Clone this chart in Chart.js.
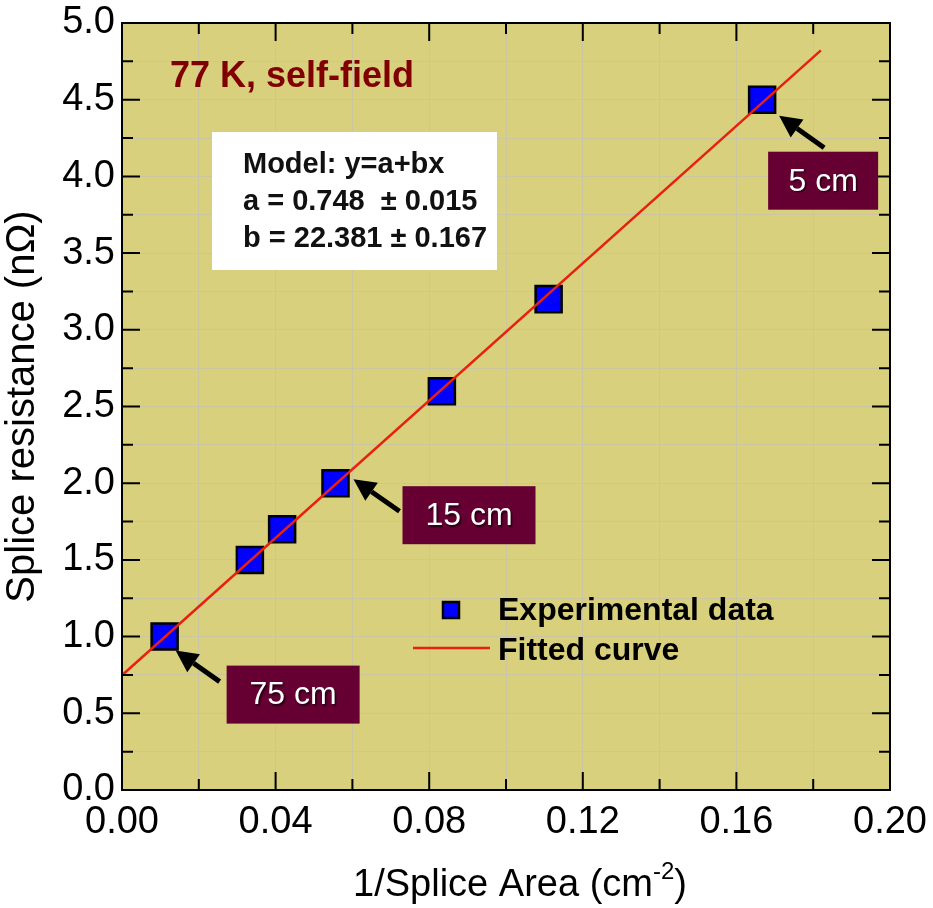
<!DOCTYPE html>
<html>
<head>
<meta charset="utf-8">
<script src="https://cdn.jsdelivr.net/npm/chart.js@4/dist/chart.umd.min.js"></script>
<style>
  html, body { margin: 0; padding: 0; background: #ffffff; }
  #wrap { width: 933px; height: 908px; }
</style>
</head>
<body>
<div id="wrap"><canvas id="chart" width="933" height="908"></canvas></div>
<script>
// Measured splice resistance vs inverse splice area, 77 K self-field
const inverseArea = [0.0111, 0.0333, 0.0417, 0.0556, 0.0833, 0.1111, 0.1667];
const resistance  = [1.0, 1.5, 1.7, 2.0, 2.6, 3.2, 4.5];

// Linear fit y = a + b x
const fitA = 0.748, fitAErr = 0.015;
const fitB = 22.381, fitBErr = 0.167;
const fitXRange = [0, 0.182];

// Axis ranges and tick steps
const xRange = [0, 0.20], xStep = 0.02, xLabelStep = 0.04;
const yRange = [0, 5.0], yStep = 0.25, yLabelStep = 0.5;

// Splice length callouts: label and the point they refer to
const calloutText  = ['75 cm', '15 cm', '5 cm'];
const calloutPoint = [0, 3, 6];

const FONT = '"Liberation Sans", Arial, Helvetica, sans-serif';
const PLOT_BG = '#d8d07c';
const GRID = '#cbc69f';
const RED = '#e8200e';
const BOX = '#660033';

// Pixel offsets (from the referenced point) for arrow tip, arrow tail and label box
const calloutLayout = [
  { tip: [11, 14], tail: [55, 45], box: [62, 29, 133, 58] },
  { tip: [18, -4], tail: [64, 28], box: [67, 3, 133, 58] },
  { tip: [17, 16], tail: [62, 48], box: [6, 52, 110, 58] }
];

const fitLine = fitXRange.map(x => ({ x: x, y: fitA + fitB * x }));
const points = inverseArea.map((x, i) => ({ x: x, y: resistance[i] }));

const isMultiple = (v, step) => Math.abs(v / step - Math.round(v / step)) < 1e-6;

function drawArrow(ctx, x0, y0, x1, y1) {
  const ang = Math.atan2(y1 - y0, x1 - x0);
  const headLen = 22, headHalf = 11;
  const bx = x1 - headLen * Math.cos(ang), by = y1 - headLen * Math.sin(ang);
  ctx.save();
  ctx.strokeStyle = '#000';
  ctx.fillStyle = '#000';
  ctx.lineWidth = 5;
  ctx.beginPath();
  ctx.moveTo(x0, y0);
  ctx.lineTo(bx, by);
  ctx.stroke();
  ctx.beginPath();
  ctx.moveTo(x1, y1);
  ctx.lineTo(bx + headHalf * Math.sin(ang), by - headHalf * Math.cos(ang));
  ctx.lineTo(bx - headHalf * Math.sin(ang), by + headHalf * Math.cos(ang));
  ctx.closePath();
  ctx.fill();
  ctx.restore();
}

const plotDecor = {
  id: 'plotDecor',
  beforeDraw(chart) {
    const { ctx, chartArea: a } = chart;
    ctx.save();
    ctx.fillStyle = PLOT_BG;
    ctx.fillRect(a.left, a.top, a.right - a.left, a.bottom - a.top);
    ctx.restore();
  },
  afterDraw(chart) {
    const { ctx, chartArea: a, scales } = chart;
    const xs = scales.x, ys = scales.y;

    // frame
    ctx.save();
    ctx.strokeStyle = '#000';
    ctx.lineWidth = 2;
    ctx.strokeRect(a.left, a.top, a.right - a.left, a.bottom - a.top);

    // inward ticks on all four sides
    ctx.lineWidth = 2;
    ctx.beginPath();
    xs.ticks.forEach(t => {
      const px = xs.getPixelForValue(t.value);
      const len = isMultiple(t.value, xLabelStep) ? 18 : 11;
      ctx.moveTo(px, a.bottom); ctx.lineTo(px, a.bottom - len);
      ctx.moveTo(px, a.top); ctx.lineTo(px, a.top + len);
    });
    ys.ticks.forEach(t => {
      const py = ys.getPixelForValue(t.value);
      const len = isMultiple(t.value, yLabelStep) ? 18 : 11;
      ctx.moveTo(a.left, py); ctx.lineTo(a.left + len, py);
      ctx.moveTo(a.right, py); ctx.lineTo(a.right - len, py);
    });
    ctx.stroke();
    ctx.restore();

    // x axis title with superscript
    ctx.save();
    ctx.fillStyle = '#000';
    ctx.textBaseline = 'alphabetic';
    const main = '1/Splice Area (cm', sup = '-2', close = ')';
    const fMain = '38px ' + FONT, fSup = '24px ' + FONT;
    ctx.font = fMain;
    const wMain = ctx.measureText(main).width, wClose = ctx.measureText(close).width;
    ctx.font = fSup;
    const wSup = ctx.measureText(sup).width;
    const total = wMain + wSup + wClose;
    let tx = (a.left + a.right) / 2 - total / 2 + 14;
    const ty = 896;
    ctx.font = fMain; ctx.textAlign = 'left';
    ctx.fillText(main, tx, ty);
    ctx.font = fSup;
    ctx.fillText(sup, tx + wMain, ty - 17);
    ctx.font = fMain;
    ctx.fillText(close, tx + wMain + wSup, ty);
    ctx.restore();

    // condition label
    ctx.save();
    ctx.fillStyle = '#800000';
    ctx.font = 'bold 36px ' + FONT;
    ctx.textAlign = 'left';
    ctx.textBaseline = 'alphabetic';
    ctx.fillText('77 K, self-field', a.left + 48, a.top + 64);
    ctx.restore();

    // fit parameter box
    ctx.save();
    const bx = a.left + 90, by = a.top + 109;
    ctx.fillStyle = '#ffffff';
    ctx.fillRect(bx, by, 285, 138);
    ctx.fillStyle = '#111';
    ctx.font = 'bold 29px ' + FONT;
    ctx.textAlign = 'left';
    ctx.textBaseline = 'alphabetic';
    ctx.fillText('Model: y=a+bx', bx + 31, by + 41);
    ctx.fillText('a = ' + fitA.toFixed(3) + '  \u00b1 ' + fitAErr.toFixed(3), bx + 31, by + 78);
    ctx.fillText('b = ' + fitB.toFixed(3) + ' \u00b1 ' + fitBErr.toFixed(3), bx + 31, by + 115);
    ctx.restore();

    // legend
    const scatterDs = chart.data.datasets[1], lineDs = chart.data.datasets[0];
    ctx.save();
    const lx = a.left + 291, ly = a.top + 586;
    ctx.fillStyle = scatterDs.backgroundColor;
    ctx.strokeStyle = scatterDs.borderColor;
    ctx.lineWidth = 2.5;
    ctx.fillRect(lx + 30, ly - 7, 16, 16);
    ctx.strokeRect(lx + 30, ly - 7, 16, 16);
    ctx.strokeStyle = lineDs.borderColor;
    ctx.lineWidth = lineDs.borderWidth;
    ctx.beginPath();
    ctx.moveTo(lx, ly + 39); ctx.lineTo(lx + 77, ly + 39);
    ctx.stroke();
    ctx.fillStyle = '#000';
    ctx.font = 'bold 32px ' + FONT;
    ctx.textAlign = 'left';
    ctx.textBaseline = 'alphabetic';
    ctx.fillText(scatterDs.label, lx + 85, ly + 11);
    ctx.fillText(lineDs.label, lx + 85, ly + 51);
    ctx.restore();

    // splice length callouts
    calloutText.forEach((txt, i) => {
      const idx = calloutPoint[i];
      const px = xs.getPixelForValue(inverseArea[idx]);
      const py = ys.getPixelForValue(resistance[idx]);
      const L = calloutLayout[i];
      drawArrow(ctx, px + L.tail[0], py + L.tail[1], px + L.tip[0], py + L.tip[1]);
      ctx.save();
      ctx.fillStyle = BOX;
      const [ox, oy, w, h] = L.box;
      ctx.fillRect(px + ox, py + oy, w, h);
      ctx.fillStyle = '#ffffff';
      ctx.shadowColor = 'rgba(0,0,0,0.7)';
      ctx.shadowOffsetX = 1.5; ctx.shadowOffsetY = 1.5; ctx.shadowBlur = 2;
      ctx.font = '32px ' + FONT;
      ctx.textAlign = 'center';
      ctx.textBaseline = 'middle';
      ctx.fillText(txt, px + ox + w / 2, py + oy + h / 2 + 1);
      ctx.restore();
    });
  }
};

new Chart(document.getElementById('chart'), {
  type: 'scatter',
  data: {
    datasets: [
      {
        type: 'line',
        label: 'Fitted curve',
        data: fitLine,
        borderColor: RED,
        borderWidth: 2.5,
        pointRadius: 0,
        fill: false,
        order: 0
      },
      {
        type: 'scatter',
        label: 'Experimental data',
        data: points,
        pointStyle: 'rect',
        pointRadius: 18.4,
        pointHoverRadius: 18.4,
        backgroundColor: '#0000ff',
        borderColor: '#000000',
        borderWidth: 2.5,
        order: 1
      }
    ]
  },
  options: {
    responsive: false,
    animation: false,
    devicePixelRatio: 1,
    layout: { padding: { top: 23, right: 43, left: 0, bottom: 0 } },
    plugins: { legend: { display: false }, tooltip: { enabled: false } },
    scales: {
      x: {
        type: 'linear',
        min: xRange[0], max: xRange[1],
        border: { display: false },
        grid: { color: GRID, lineWidth: 1, drawTicks: false },
        ticks: {
          stepSize: xStep, autoSkip: false, maxRotation: 0, padding: 10,
          color: '#000', font: { family: FONT, size: 38 },
          callback: v => isMultiple(v, xLabelStep) ? v.toFixed(2) : ''
        },
        afterFit: s => { s.height = 118; s.paddingLeft = 0; s.paddingRight = 0; }
      },
      y: {
        type: 'linear',
        min: yRange[0], max: yRange[1],
        border: { display: false },
        grid: { color: GRID, lineWidth: 1, drawTicks: false },
        ticks: {
          stepSize: yStep, autoSkip: false, padding: 7,
          color: '#000', font: { family: FONT, size: 38 },
          callback: v => isMultiple(v, yLabelStep) ? v.toFixed(1) : ''
        },
        title: {
          display: true, text: 'Splice resistance (n\u03a9)', color: '#000',
          font: { family: FONT, size: 40, lineHeight: 1.15 }, padding: { top: 0, bottom: 0 }
        },
        afterFit: s => { s.width = 122; s.paddingTop = 0; s.paddingBottom = 0; }
      }
    }
  },
  plugins: [plotDecor]
});
</script>
</body>
</html>
